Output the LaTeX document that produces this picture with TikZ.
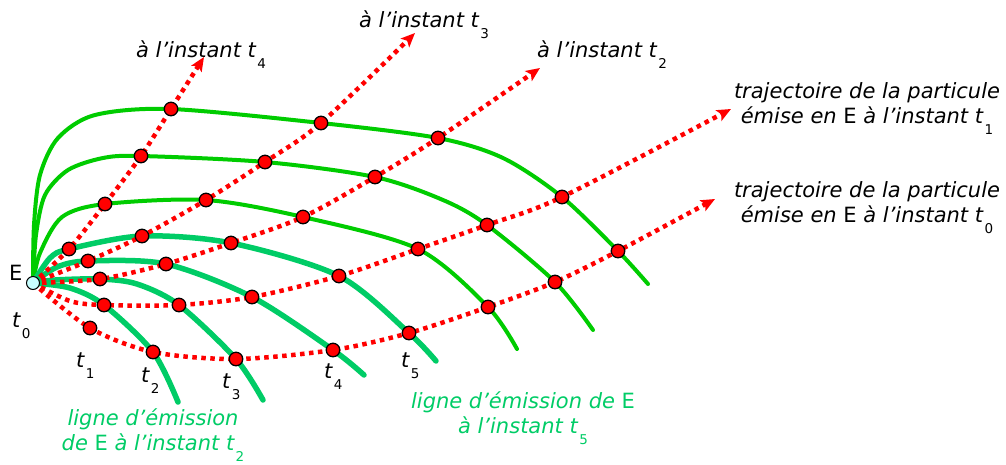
\documentclass[tikz,border=0pt]{standalone}
\usepackage{fontspec}
\setmainfont{DejaVu Sans}
\usetikzlibrary{arrows.meta}
\definecolor{vertA}{RGB}{0,204,102}
\definecolor{vertB}{RGB}{0,204,0}
\definecolor{cyanE}{RGB}{200,255,255}
\newcommand\tsub[1]{\kern1.5pt\raisebox{-11pt}{\fontsize{13.5}{13.5}\selectfont\upshape #1}}
\begin{document}
\begin{tikzpicture}[x=1pt,y=-1pt,
  streakA/.style={vertA, line width=5.5pt, line cap=round},
  streakB/.style={vertB, line width=4pt, line cap=round},
  traj/.style={red, line width=4.5pt, dash pattern=on 4.5pt off 4.5pt},
  trajarrow/.style={traj, -{Stealth[length=14pt,width=12pt,inset=3pt]}},
  pt/.style={circle, fill=red, draw=black, line width=1.3pt, inner sep=0pt, minimum size=13.5pt},
  lbl/.style={font=\fontsize{21}{25}\selectfont\itshape, inner sep=0pt},
  tlbl/.style={font=\fontsize{21}{24}\selectfont\itshape, inner sep=0pt, anchor=base west},
  ]
\useasboundingbox (0,0) rectangle (1006,464);
% emission point
\coordinate (E) at (33,283);
% trajectory t0
\coordinate (a1) at (90,328); \coordinate (a2) at (153,352); \coordinate (a3) at (236,359);
\coordinate (a4) at (333,350); \coordinate (a5) at (409,333); \coordinate (a6) at (488,307);
\coordinate (a7) at (555,282); \coordinate (a8) at (618,251); \coordinate (A) at (715,199);
% trajectory t1
\coordinate (b2) at (104,305); \coordinate (b3) at (179,305); \coordinate (b4) at (252,297);
\coordinate (b5) at (339,276); \coordinate (b6) at (418,249); \coordinate (b7) at (487,225);
\coordinate (b8) at (562,197); \coordinate (B) at (731,109);
% trajectory t2
\coordinate (c3) at (100,279); \coordinate (c4) at (166,264); \coordinate (c5) at (231,243);
\coordinate (c6) at (303,217); \coordinate (c7) at (375,177); \coordinate (c8) at (438,138);
\coordinate (C) at (540,68);
% trajectory t3
\coordinate (d4) at (88,261); \coordinate (d5) at (142,236); \coordinate (d6) at (206,200);
\coordinate (d7) at (265,162); \coordinate (d8) at (321,123); \coordinate (D) at (415,33);
% trajectory t4
\coordinate (e5) at (69,249); \coordinate (e6) at (105,204); \coordinate (e7) at (141,156);
\coordinate (e8) at (171,109); \coordinate (F) at (204,57);
% streakline ends
\coordinate (s2) at (178,402); \coordinate (s3) at (263,400); \coordinate (s4) at (364,375);
\coordinate (s5) at (436,361); \coordinate (s6) at (517,349); \coordinate (s7) at (593,330);
\coordinate (s8) at (648,284);

% streaklines
\draw[streakB] plot[smooth] coordinates {(E) (34,225) (40,175) (58,138) (95,115) (e8) (d8) (c8) (503,158) (b8) (a8) (s8)};
\draw[streakB] plot[smooth] coordinates {(E) (36,235) (45,195) (68,170) (103,158) (e7) (d7) (c7) (443,200) (b7) (a7) (s7)};
\draw[streakB] plot[smooth] coordinates {(E) (40,253) (62,217) (e6) (d6) (c6) (b6) (a6) (s6)};
\draw[streakA] plot[smooth] coordinates {(E) (50,258) (e5) (d5) (c5) (b5) (a5) (s5)};
\draw[streakA] plot[smooth] coordinates {(E) (57,267) (d4) (c4) (b4) (a4) (s4)};
\draw[streakA] plot[smooth] coordinates {(E) (55,280) (c3) (137,284) (b3) (a3) (s3)};
\draw[streakA] plot[smooth] coordinates {(E) (70,288) (b2) (a2) (s2)};

% trajectories
\draw[trajarrow] plot[smooth] coordinates {(E) (a1) (a2) (a3) (a4) (a5) (a6) (a7) (a8) (A)};
\draw[trajarrow] plot[smooth] coordinates {(E) (70,301) (b2) (b3) (b4) (b5) (b6) (b7) (b8) (B)};
\draw[trajarrow] plot[smooth] coordinates {(E) (c3) (c4) (c5) (c6) (c7) (c8) (C)};
\draw[trajarrow] plot[smooth] coordinates {(E) (d4) (d5) (d6) (d7) (d8) (D)};
\draw[trajarrow] plot[smooth] coordinates {(E) (e5) (e6) (e7) (e8) (F)};

% particle positions
\foreach \p in {a1,a2,a3,a4,a5,a6,a7,a8,b2,b3,b4,b5,b6,b7,b8,c3,c4,c5,c6,c7,c8,d4,d5,d6,d7,d8,e5,e6,e7,e8}
  \node[pt] (n\p) at (\p) {};
\node[circle, fill=cyanE, draw=black, line width=1pt, inner sep=0pt, minimum size=13pt] (nE) at (E) {};

% labels
\node[font=\fontsize{21}{24}\selectfont, inner sep=0pt, anchor=base west] (lE) at (9,280) {E};
\node[tlbl] (l0) at (12,327) {t\tsub{0}};
\node[tlbl] (l1) at (76,367) {t\tsub{1}};
\node[tlbl] (l2) at (141,382) {t\tsub{2}};
\node[tlbl] (l3) at (222,388) {t\tsub{3}};
\node[tlbl] (l4) at (324,378) {t\tsub{4}};
\node[tlbl] (l5) at (401,367) {t\tsub{5}};

\node[tlbl] (i4) at (136,57) {à l’instant t\tsub{4}};
\node[tlbl] (i3) at (359,27) {à l’instant t\tsub{3}};
\node[tlbl] (i2) at (537,57) {à l’instant t\tsub{2}};

\node[lbl, align=center, anchor=north] (r1) at (867,82) {trajectoire de la particule\\ émise en {\upshape E} à l’instant t\tsub{1}};
\node[lbl, align=center, anchor=north] (r0) at (867,181) {trajectoire de la particule\\ émise en {\upshape E} à l’instant t\tsub{0}};

\node[lbl, text=vertA, align=center, anchor=north] (g2) at (153,408) {ligne d’émission\\ de {\upshape E} à l’instant t\tsub{2}};
\node[lbl, text=vertA, align=center, anchor=north] (g5) at (523,391) {ligne d’émission de {\upshape E}\\ à l’instant t\tsub{5}};
\end{tikzpicture}
\end{document}
